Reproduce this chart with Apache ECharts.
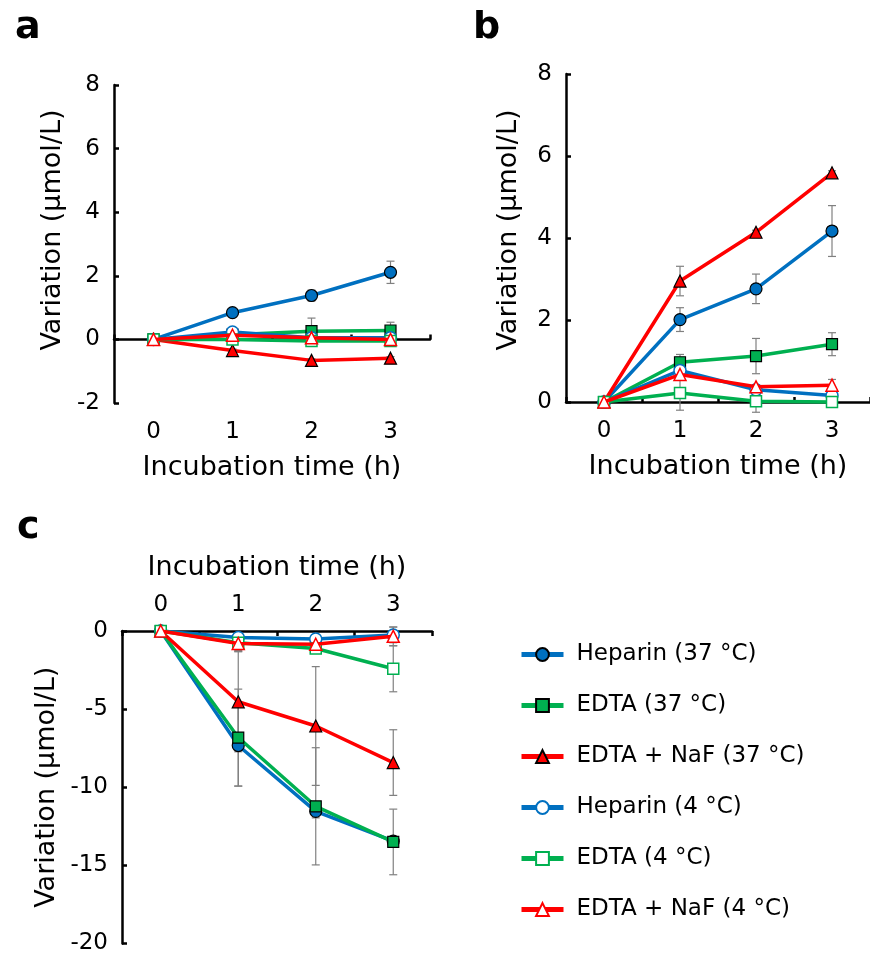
<!DOCTYPE html>
<html lang="en" style="height: 100%">
<head>
<meta charset="utf-8">
<title>Variation over incubation time</title>
</head>
<body style="height: 100%; margin: 0">
<div id="container" style="width: 870px; height: 955px"></div>

<script type="text/javascript" src="https://cdn.jsdelivr.net/npm/echarts@6/dist/echarts.min.js"></script>

<script type="text/javascript">

var dom = document.getElementById('container');
var myChart = echarts.init(dom);

// categories and series
const hours = ['0', '1', '2', '3'];
const names = ['Heparin (37 °C)', 'EDTA (37 °C)', 'EDTA + NaF (37 °C)',
               'Heparin (4 °C)', 'EDTA (4 °C)', 'EDTA + NaF (4 °C)'];

// panel a: means (one row per series, same order as names) and error bars
const aMeans = [
    [0, 0.84, 1.38, 2.11],
    [0, 0.15, 0.26, 0.28],
    [0, -0.35, -0.66, -0.59],
    [0, 0.23, 0.05, 0.05],
    [0, 0.0, -0.05, -0.05],
    [0, 0.13, 0.05, 0.0]
];
const aErrors = [
    [0, 0.06, 0.17, 0.35],
    [0, 0.05, 0.41, 0.26],
    [0, 0.05, 0.05, 0.05],
    [0, 0.05, 0.05, 0.05],
    [0, 0.05, 0.05, 0.05],
    [0, 0.05, 0.05, 0.05]
];

// panel b
const bMeans = [
    [0, 2.01, 2.76, 4.17],
    [0, 0.97, 1.12, 1.41],
    [0, 2.95, 4.14, 5.59],
    [0, 0.77, 0.30, 0.16],
    [0, 0.22, 0.02, 0.0],
    [0, 0.67, 0.37, 0.41]
];
const bErrors = [
    [0, 0.29, 0.36, 0.62],
    [0, 0.19, 0.43, 0.28],
    [0, 0.36, 0.05, 0.05],
    [0, 0.05, 0.05, 0.1],
    [0, 0.42, 0.27, 0.05],
    [0, 0.05, 0.05, 0.14]
];

// panel c
const cMeans = [
    [0, -7.33, -11.54, -13.45],
    [0, -6.82, -11.22, -13.5],
    [0, -4.53, -6.08, -8.42],
    [0, -0.42, -0.51, -0.25],
    [0, -0.75, -1.12, -2.42],
    [0, -0.8, -0.85, -0.34]
];
const cErrors = [
    [0, 2.6, 0.42, 0.3],
    [0, 3.1, 3.75, 2.1],
    [0, 3.2, 3.8, 2.1],
    [0, 0.3, 0.2, 0.5],
    [0, 0.5, 0.3, 1.47],
    [0, 0.5, 0.3, 0.6]
];

const lineColors = ['#0070C0', '#00B050', '#FF0000', '#0070C0', '#00B050', '#FF0000'];
const symbols = ['circle', 'rect', 'triangle', 'circle', 'rect', 'triangle'];
const symbolSizes = [12, 11, 12, 12, 11, 12];
const FONT = 'DejaVu Sans';

function makeLines(means, xIdx, yIdx) {
    return means.map(function (row, i) {
        var open = i >= 3;
        return {
            name: names[i],
            type: 'line',
            xAxisIndex: xIdx,
            yAxisIndex: yIdx,
            data: row,
            symbol: symbols[i],
            symbolSize: symbolSizes[i],
            showAllSymbol: true,
            clip: false,
            z: 3 + i,
            lineStyle: { color: lineColors[i], width: 3.5 },
            itemStyle: open
                ? { color: '#fff', borderColor: lineColors[i], borderWidth: 1.5 }
                : { color: lineColors[i], borderColor: '#000', borderWidth: 1.2 },
            emphasis: { disabled: true }
        };
    });
}

function makeErrors(means, errors, xIdx, yIdx) {
    var data = [];
    means.forEach(function (row, i) {
        row.forEach(function (v, j) {
            if (errors[i][j] > 0) data.push([j, v, errors[i][j]]);
        });
    });
    return {
        type: 'custom',
        xAxisIndex: xIdx,
        yAxisIndex: yIdx,
        z: 2,
        silent: true,
        data: data,
        renderItem: function (params, api) {
            var x = api.value(0), y = api.value(1), e = api.value(2);
            var hi = api.coord([x, y + e]);
            var lo = api.coord([x, y - e]);
            var st = { stroke: '#808080', lineWidth: 1.2 };
            return {
                type: 'group',
                children: [
                    { type: 'line', shape: { x1: hi[0], y1: hi[1], x2: lo[0], y2: lo[1] }, style: st },
                    { type: 'line', shape: { x1: hi[0] - 4, y1: hi[1], x2: hi[0] + 4, y2: hi[1] }, style: st },
                    { type: 'line', shape: { x1: lo[0] - 4, y1: lo[1], x2: lo[0] + 4, y2: lo[1] }, style: st }
                ]
            };
        }
    };
}

const axisLineStyle = { color: '#000', width: 2.5 };
const labelStyle = { color: '#000', fontSize: 23, fontFamily: FONT };
const nameStyle = { color: '#000', fontSize: 27, fontFamily: FONT };

function yAxis(grid, min, max, interval, gap, pad) {
    return {
        type: 'value', gridIndex: grid, min: min, max: max, interval: interval,
        name: 'Variation (μmol/L)', nameLocation: 'middle', nameGap: gap,
        nameTextStyle: Object.assign({ padding: pad }, nameStyle),
        axisLine: { show: true, onZero: false, lineStyle: axisLineStyle },
        axisTick: { show: true, inside: true, length: 5, lineStyle: axisLineStyle },
        axisLabel: Object.assign({ margin: 14 }, labelStyle),
        splitLine: { show: false }
    };
}

var option = {
    animation: false,
    backgroundColor: '#fff',
    title: [
        { text: 'a', left: 10, top: 4, textStyle: { fontSize: 38, fontWeight: 'bold', fontFamily: FONT, color: '#000' } },
        { text: 'b', left: 468, top: 4, textStyle: { fontSize: 38, fontWeight: 'bold', fontFamily: FONT, color: '#000' } },
        { text: 'c', left: 12, top: 504, textStyle: { fontSize: 38, fontWeight: 'bold', fontFamily: FONT, color: '#000' } }
    ],
    legend: {
        orient: 'vertical',
        left: 514,
        top: 638,
        itemWidth: 42,
        itemHeight: 16,
        itemGap: 28,
        data: names,
        selectedMode: false,
        lineStyle: { width: 5 },
        textStyle: { color: '#000', fontSize: 23, fontFamily: FONT, padding: [0, 0, 0, 8] }
    },
    grid: [
        { left: 114, top: 85, width: 316, height: 318 },
        { left: 566, top: 74, width: 306, height: 328 },
        { left: 122, top: 631, width: 310, height: 313 }
    ],
    xAxis: [
        // panel a: labels at bottom, axis line on zero
        {
            type: 'category', gridIndex: 0, data: hours, position: 'bottom',
            name: 'Incubation time (h)', nameLocation: 'middle', nameGap: 51, nameTextStyle: nameStyle,
            axisLine: { show: false, onZero: false },
            axisTick: { show: false },
            axisLabel: Object.assign({ margin: 18 }, labelStyle)
        },
        {
            type: 'category', gridIndex: 0, data: hours, position: 'top',
            axisLine: { show: true, onZero: true, lineStyle: axisLineStyle },
            axisTick: { show: true, inside: false, length: 5, lineStyle: axisLineStyle },
            axisLabel: { show: false }
        },
        // panel b
        {
            type: 'category', gridIndex: 1, data: hours, position: 'bottom',
            name: 'Incubation time (h)', nameLocation: 'middle', nameGap: 51, nameTextStyle: nameStyle,
            axisLine: { show: true, onZero: false, lineStyle: axisLineStyle },
            axisTick: { show: true, inside: true, length: 5, lineStyle: axisLineStyle },
            axisLabel: Object.assign({ margin: 18 }, labelStyle)
        },
        // panel c: axis on top
        {
            type: 'category', gridIndex: 2, data: hours, position: 'top',
            name: 'Incubation time (h)', nameLocation: 'middle', nameGap: 50, nameTextStyle: nameStyle,
            axisLine: { show: true, onZero: false, lineStyle: axisLineStyle },
            axisTick: { show: true, inside: true, length: 5, lineStyle: axisLineStyle },
            axisLabel: Object.assign({ margin: 14 }, labelStyle)
        }
    ],
    yAxis: [
        yAxis(0, -2, 8, 2, 48, [0, 0, 0, 28]),
        yAxis(1, 0, 8, 2, 44, [0, 0, 0, 16]),
        yAxis(2, -20, 0, 5, 62, [0, 0, 0, 0])
    ],
    series: [].concat(
        [makeErrors(aMeans, aErrors, 0, 0)],
        makeLines(aMeans, 0, 0),
        [makeErrors(bMeans, bErrors, 2, 1)],
        makeLines(bMeans, 2, 1),
        [makeErrors(cMeans, cErrors, 3, 2)],
        makeLines(cMeans, 3, 2)
    )
};

if (option && typeof option === 'object') {
    myChart.setOption(option);
}

window.addEventListener('resize', myChart.resize);
</script>
</body>
</html>
